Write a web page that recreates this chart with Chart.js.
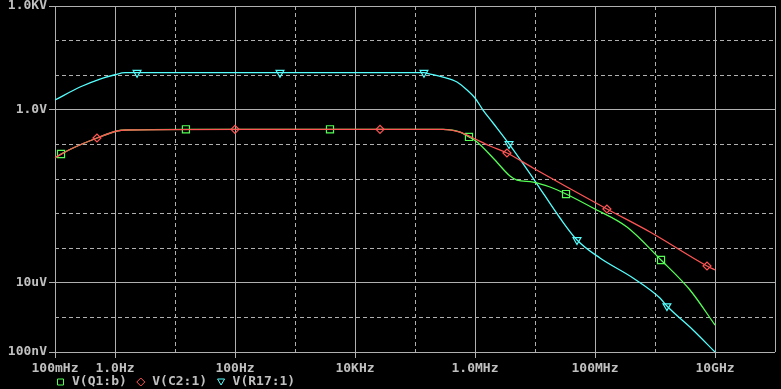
<!DOCTYPE html>
<html>
<head>
<meta charset="utf-8">
<script src="https://cdn.jsdelivr.net/npm/chart.js@4/dist/chart.umd.min.js"></script>
<style>
html,body{margin:0;padding:0;background:#000;}
#wrap{width:781px;height:389px;}
</style>
</head>
<body>
<div id="wrap"><canvas id="plot"></canvas></div>
<script>
/* axis ticks */
let xTicks = [0.1, 1, 10, 100, 1e3, 1e4, 1e5, 1e6, 1e7, 1e8, 1e9, 1e10, 1e11];
let xLabels = ["100mHz", "1.0Hz", "", "100Hz", "", "10KHz", "", "1.0MHz", "", "100MHz", "", "10GHz", ""];
let yTicks = [1e-7, 1e-6, 1e-5, 1e-4, 1e-3, 1e-2, 0.1, 1, 10, 100, 1e3];
let yLabels = ["100nV", "", "10uV", "", "", "", "", "1.0V", "", "", "1.0KV"];

/* V(Q1:b) */
let q1Freq = [0.1, 0.126, 0.2, 0.501, 1.08, 1.58, 15.2, 3830, 293e3, 562e3, 794e3, 1.08e6, 2.0e6, 3.83e6, 5.01e6, 9.27e6, 17.8e6, 32.9e6, 92.7e6, 341e6, 1.26e9, 3.83e9, 10e9];
let q1Volt = [0.0413, 0.0528, 0.0787, 0.153, 0.244, 0.261, 0.273, 0.273, 0.270, 0.228, 0.164, 0.117, 0.0405, 0.0122, 9.35e-3, 8.18e-3, 5.87e-3, 3.68e-3, 1.45e-3, 4.10e-4, 4.56e-5, 6.19e-6, 6.03e-7];
let q1Marks = [0.126, 15.2, 3830, 794e3, 32.9e6, 1.26e9];

/* V(C2:1) */
let c2Freq = [0.1, 0.2, 0.501, 1.08, 1.58, 100, 26.1e3, 293e3, 562e3, 927e3, 1.78e6, 3.41e6, 9.27e6, 34.1e6, 158e6, 826e6, 7.36e9, 10e9];
let c2Volt = [0.0413, 0.0787, 0.153, 0.244, 0.261, 0.273, 0.273, 0.270, 0.228, 0.153, 0.0899, 0.0564, 0.0208, 5.87e-3, 1.36e-3, 2.94e-4, 3.06e-5, 2.34e-5];
let c2Marks = [0.501, 100, 26.1e3, 3.41e6, 158e6, 7.36e9];

/* V(R17:1) */
let r17Freq = [0.1, 0.261, 0.562, 1, 1.47, 2.33, 562, 141e3, 178e3, 293e3, 501e3, 736e3, 1e6, 1.36e6, 2.0e6, 3.69e6, 10e6, 26.1e6, 50.1e6, 121e6, 430e6, 1.21e9, 1.58e9, 4.30e9, 10e9];
let r17Volt = [1.92, 4.56, 7.76, 10.3, 11.8, 11.8, 11.8, 11.8, 10.8, 8.87, 6.36, 3.73, 2.19, 0.986, 0.415, 0.103, 8.75e-3, 7.46e-4, 1.73e-4, 5.21e-5, 1.38e-5, 3.64e-6, 2.13e-6, 4.33e-7, 1e-7];
let r17Marks = [2.33, 562, 141e3, 3.69e6, 50.1e6, 1.58e9];

const textCol = "#c0c0c0";
const gridCol = "#b0b0b0";
const monoFont = {family: "'DejaVu Sans Mono', monospace", size: 13, weight: "bold"};

function pts(f, v) {
    return f.map((x, i) => ({x: x, y: v[i]}));
}
function markRadius(marks, r) {
    return function (ctx) {
        let p = ctx.raw;
        return p && marks.indexOf(p.x) >= 0 ? r : 0;
    };
}

/* legend, drawn below the x labels */
const legendItems = [
    {text: "V(Q1:b)", color: "#55ff55", shape: "square"},
    {text: "V(C2:1)", color: "#ff5555", shape: "diamond"},
    {text: "V(R17:1)", color: "#55ffff", shape: "tri"}
];
const legendPlugin = {
    id: "pspiceLegend",
    afterDraw(chart) {
        let c = chart.ctx;
        c.save();
        c.font = "bold 13px 'DejaVu Sans Mono', monospace";
        c.textBaseline = "middle";
        c.lineWidth = 1;
        let x = 60.5, y = 382;
        legendItems.forEach(it => {
            c.strokeStyle = it.color;
            c.beginPath();
            if (it.shape == "square") {
                c.rect(x - 3, y - 3, 6, 6);
            } else if (it.shape == "diamond") {
                c.moveTo(x, y - 4); c.lineTo(x + 4, y); c.lineTo(x, y + 4); c.lineTo(x - 4, y); c.closePath();
            } else {
                c.moveTo(x - 3.5, y - 3); c.lineTo(x + 3.5, y - 3); c.lineTo(x, y + 3); c.closePath();
            }
            c.stroke();
            c.fillStyle = textCol;
            let tx = x + 11.5;
            c.fillText(it.text, tx, y);
            x = tx + c.measureText(it.text).width + 14;
        });
        c.restore();
    }
};

const config = {
    type: "line",
    data: {
        datasets: [
            {label: "V(Q1:b)", data: pts(q1Freq, q1Volt), borderColor: "#55ff55", pointStyle: "rect",
             pointRadius: markRadius(q1Marks, 5), order: 1},
            {label: "V(C2:1)", data: pts(c2Freq, c2Volt), borderColor: "#ff5555", pointStyle: "rectRot",
             pointRadius: markRadius(c2Marks, 4), order: 0},
            {label: "V(R17:1)", data: pts(r17Freq, r17Volt), borderColor: "#55ffff", pointStyle: "triangle",
             pointRotation: 180, pointRadius: markRadius(r17Marks, 4.5), order: 2}
        ]
    },
    options: {
        responsive: true,
        maintainAspectRatio: false,
        animation: false,
        layout: {padding: {top: 6, right: 6, left: 0, bottom: 0}},
        elements: {
            line: {borderWidth: 1.3, fill: false, cubicInterpolationMode: "monotone"},
            point: {backgroundColor: "rgba(0,0,0,0)", borderWidth: 1.2, hoverRadius: 0}
        },
        plugins: {legend: {display: false}, tooltip: {enabled: false}},
        scales: {
            x: {
                type: "logarithmic",
                min: 0.1, max: 1e11,
                afterBuildTicks: s => { s.ticks = xTicks.map(v => ({value: v})); },
                afterFit: s => { s.height = 37; s.paddingLeft = 0; s.paddingRight = 0; },
                ticks: {
                    autoSkip: false, maxRotation: 0, minRotation: 0, padding: 3,
                    color: textCol, font: monoFont,
                    callback: (v, i) => xLabels[i]
                },
                grid: {
                    color: gridCol, lineWidth: 1, tickLength: 6,
                    tickColor: ctx => xLabels[ctx.index] ? gridCol : "rgba(0,0,0,0)"
                },
                border: {
                    display: false,
                    dash: ctx => (xLabels[ctx.index] || ctx.index == xTicks.length - 1) ? [] : [4, 3]
                }
            },
            y: {
                type: "logarithmic",
                min: 1e-7, max: 1e3,
                afterBuildTicks: s => { s.ticks = yTicks.map(v => ({value: v})); },
                afterFit: s => { s.width = 55; s.paddingTop = 0; s.paddingBottom = 0; },
                ticks: {
                    autoSkip: false, padding: 2,
                    color: textCol, font: monoFont,
                    callback: (v, i) => yLabels[i]
                },
                grid: {
                    color: gridCol, lineWidth: 1, tickLength: 6,
                    tickColor: ctx => yLabels[ctx.index] ? gridCol : "rgba(0,0,0,0)"
                },
                border: {
                    display: false,
                    dash: ctx => yLabels[ctx.index] ? [] : [4, 3]
                }
            }
        }
    },
    plugins: [legendPlugin]
};

window.onload = function () {
    new Chart(document.getElementById("plot"), config);
};
</script>
</body>
</html>
